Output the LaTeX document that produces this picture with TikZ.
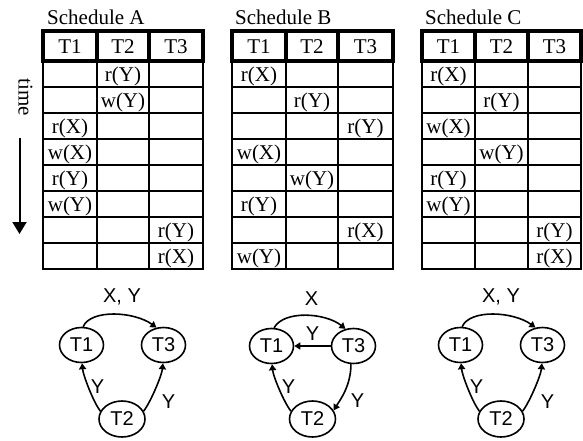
\documentclass[tikz,border=0pt]{standalone}
\usepackage{fontspec}
\setmainfont{Liberation Serif}
\newfontfamily\gfont{Liberation Sans}
\usetikzlibrary{shapes.geometric,arrows.meta}
\newcommand{\schedtab}[4]{%
  \draw[gridline] (#1,61) rectangle (#4,269);
  \foreach \yy in {87,113,139,165,191,217,243} {\draw[gridline] (#1,\yy) -- (#4,\yy);}
  \draw[gridline] (#2,61) -- (#2,269);
  \draw[gridline] (#3,61) -- (#3,269);
  \draw[headline] (#1,31) rectangle (#4,61);
  \draw[headline] (#2,31) -- (#2,61);
  \draw[headline] (#3,31) -- (#3,61);
}
\newcommand{\cellnode}[4]{\node[cell] (#1) at (#2,{55.5+26*#3}) {#4};}
\begin{document}
\begin{tikzpicture}[x=1pt,y=-1pt,
  gridline/.style={line width=2pt},
  headline/.style={line width=4pt},
  cell/.style={font=\fontsize{21}{21}\selectfont, inner sep=0pt, anchor=base},
  title/.style={font=\fontsize{21}{21}\selectfont, inner sep=0pt, anchor=base west},
  tx/.style={draw, ellipse, line width=1.6pt, minimum width=44pt, minimum height=35pt, inner sep=0pt, font=\gfont\fontsize{20}{20}\selectfont},
  txb/.style={tx, minimum width=46pt, minimum height=36pt},
  lbl/.style={font=\gfont\fontsize{20}{20}\selectfont, inner sep=0pt, anchor=base},
  arr/.style={line width=1.6pt, -{Triangle[width=7pt,length=6pt]}}
]
\useasboundingbox (0,0) rectangle (583,441);

% ---------- titles ----------
\node[title] (titleA) at (47,25) {Schedule A};
\node[title] (titleB) at (235,25) {Schedule B};
\node[title] (titleC) at (425,25) {Schedule C};

% ---------- time axis ----------
\node[font=\fontsize{21}{21}\selectfont, inner sep=0pt, rotate=-90] (time) at (25.5,97) {time};
\coordinate (tstart) at (19.5,138);
\coordinate (tend) at (19.5,234);
\draw[line width=2pt, -{Triangle[width=14pt,length=12pt]}] (tstart) -- (tend);

% ---------- tables ----------
\schedtab{43}{97}{149}{203}
\schedtab{232}{286}{338}{393}
\schedtab{422}{475}{528}{581}

% headers
\node[cell] (hA1) at (70,53.5) {T1};
\node[cell] (hA2) at (123,53.5) {T2};
\node[cell] (hA3) at (176,53.5) {T3};
\node[cell] (hB1) at (259,53.5) {T1};
\node[cell] (hB2) at (312,53.5) {T2};
\node[cell] (hB3) at (365.5,53.5) {T3};
\node[cell] (hC1) at (448.5,53.5) {T1};
\node[cell] (hC2) at (501.5,53.5) {T2};
\node[cell] (hC3) at (554.5,53.5) {T3};

% schedule A
\cellnode{a1}{123}{1}{r(Y)}
\cellnode{a2}{123}{2}{w(Y)}
\cellnode{a3}{70}{3}{r(X)}
\cellnode{a4}{70}{4}{w(X)}
\cellnode{a5}{70}{5}{r(Y)}
\cellnode{a6}{70}{6}{w(Y)}
\cellnode{a7}{176}{7}{r(Y)}
\cellnode{a8}{176}{8}{r(X)}

% schedule B
\cellnode{b1}{259}{1}{r(X)}
\cellnode{b2}{312}{2}{r(Y)}
\cellnode{b3}{365.5}{3}{r(Y)}
\cellnode{b4}{259}{4}{w(X)}
\cellnode{b5}{312}{5}{w(Y)}
\cellnode{b6}{259}{6}{r(Y)}
\cellnode{b7}{365.5}{7}{r(X)}
\cellnode{b8}{259}{8}{w(Y)}

% schedule C
\cellnode{c1}{448.5}{1}{r(X)}
\cellnode{c2}{501.5}{2}{r(Y)}
\cellnode{c3}{448.5}{3}{w(X)}
\cellnode{c4}{501.5}{4}{w(Y)}
\cellnode{c5}{448.5}{5}{r(Y)}
\cellnode{c6}{448.5}{6}{w(Y)}
\cellnode{c7}{554.5}{7}{r(Y)}
\cellnode{c8}{554.5}{8}{r(X)}

% ---------- graph A ----------
\node[tx] (A1) at (81.5,345) {T1};
\node[tx] (A3) at (163.5,345) {T3};
\node[txb] (A2) at (122,419) {T2};
\draw[arr] (A1.85) .. controls +(8,-18) and +(-22,-16) .. (A3.112);
\draw[arr] (A2.160) .. controls +(-7,-9) and +(1,12) .. (A1.-88);
\draw[arr] (A2.20) .. controls +(7,-9) and +(-1,12) .. (A3.-92);
\node[lbl] (lA13) at (122,302) {X, Y};
\node[lbl] (lA21) at (97.5,393) {Y};
\node[lbl] (lA23) at (168.5,408) {Y};

% ---------- graph B ----------
\node[tx] (B1) at (271.5,346) {T1};
\node[tx] (B3) at (353.5,346) {T3};
\node[txb] (B2) at (312.5,419) {T2};
\draw[arr] (B1.82) .. controls +(10,-18) and +(-20,-16) .. (B3.115);
\draw[arr] (B3.west) -- (B1.east);
\draw[arr] (B3.-98) .. controls +(0,22) and +(6,-10) .. (B2.22);
\draw[arr] (B2.160) .. controls +(-7,-9) and +(1,12) .. (B1.-88);
\node[lbl] (lB13) at (311.5,305) {X};
\node[lbl] (lB31) at (312.5,340) {Y};
\node[lbl] (lB32) at (357.5,407) {Y};
\node[lbl] (lB21) at (288.5,393) {Y};

% ---------- graph C ----------
\node[tx] (C1) at (460.5,345) {T1};
\node[tx] (C3) at (542.5,345) {T3};
\node[txb] (C2) at (501,419) {T2};
\draw[arr] (C1.85) .. controls +(8,-18) and +(-22,-16) .. (C3.112);
\draw[arr] (C2.160) .. controls +(-7,-9) and +(1,12) .. (C1.-88);
\draw[arr] (C2.20) .. controls +(7,-9) and +(-1,12) .. (C3.-92);
\node[lbl] (lC13) at (501,302) {X, Y};
\node[lbl] (lC21) at (476.5,393) {Y};
\node[lbl] (lC23) at (547.5,408) {Y};
\end{tikzpicture}
\end{document}
